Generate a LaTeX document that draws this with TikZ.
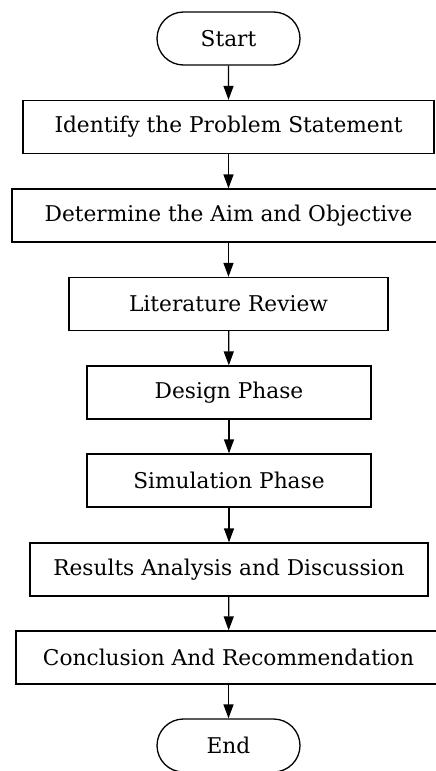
\documentclass[tikz,border=0pt]{standalone}
\usepackage{fontspec}
\setmainfont{DejaVu Serif}
\usetikzlibrary{arrows.meta,shapes.misc}

\begin{document}
\begin{tikzpicture}[x=1pt,y=-1pt,>={Triangle[width=10pt,length=14pt]},
        line width=1.3pt,
        box/.style={draw,rectangle,minimum height=53pt,inner sep=0pt,font=\fontsize{21.7}{24}\selectfont},
        term/.style={draw,rounded rectangle,minimum width=143pt,minimum height=53pt,inner sep=0pt,font=\fontsize{21.7}{24}\selectfont}]
        \useasboundingbox (0,0) rectangle (436,771);
        \node [term] (start) at (228.5,38.5) {Start};
        \node [box,minimum width=411pt] (problem) at (228.5,127) {Identify the Problem Statement};
        \node [box,minimum width=433pt] (aim) at (228.5,215.5) {Determine the Aim and Objective};
        \node [box,minimum width=319pt] (review) at (228.5,304) {Literature Review};
        \node [box,minimum width=284pt] (design) at (229,392.5) {Design Phase};
        \node [box,minimum width=284pt] (simulation) at (229,480.5) {Simulation Phase};
        \node [box,minimum width=398pt] (results) at (229,569.5) {Results Analysis and Discussion};
        \node [box,minimum width=425pt] (conclusion) at (228.5,657.5) {Conclusion And Recommendation};
        \node [term] (end) at (228.5,745.5) {End};
        \draw [->] (start) -- (problem);
        \draw [->] (problem) -- (aim);
        \draw [->] (aim) -- (review);
        \draw [->] (review) -- (design);
        \draw [->] (design) -- (simulation);
        \draw [->] (simulation) -- (results);
        \draw [->] (results) -- (conclusion);
        \draw [->] (conclusion) -- (end);
\end{tikzpicture}
\end{document}
